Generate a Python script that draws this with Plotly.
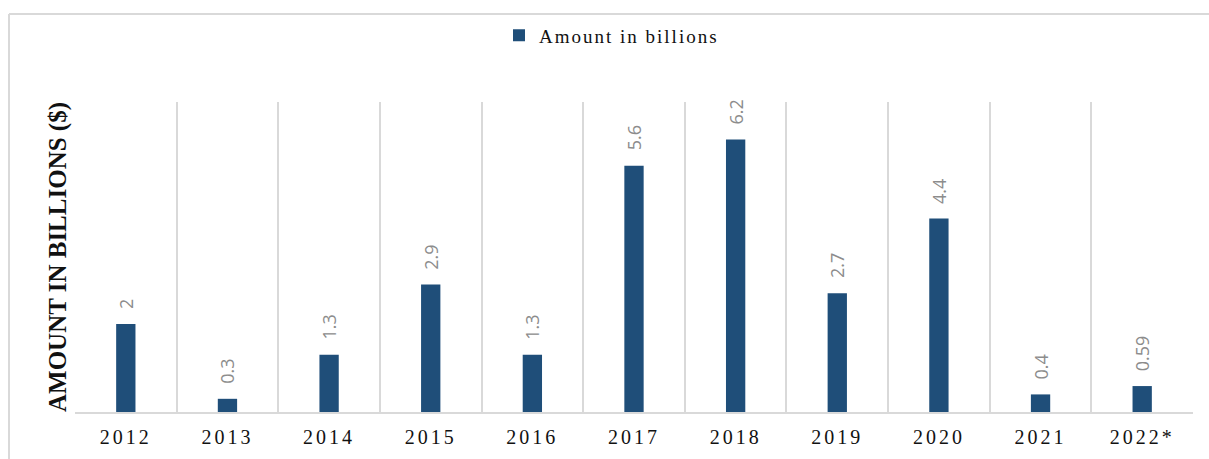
import plotly.graph_objects as go

years = ["2012", "2013", "2014", "2015", "2016", "2017", "2018", "2019", "2020", "2021", "2022*"]
amounts = [2, 0.3, 1.3, 2.9, 1.3, 5.6, 6.2, 2.7, 4.4, 0.4, 0.59]
labels = ["2", "0.3", "1.3", "2.9", "1.3", "5.6", "6.2", "2.7", "4.4", "0.4", "0.59"]
series_name = "Amount in billions"

W, H = 1209, 459
ml, mr, mt, mb = 75, 16, 102, 47
pw = W - ml - mr
ph = H - mt - mb

fig = go.Figure()
fig.add_trace(go.Bar(
    x=years, y=amounts, name=series_name,
    marker=dict(color="#1F4E79", line=dict(width=0)),
    cliponaxis=False,
))

# category axis: annotation positions use the category index
for i, (val, lab) in enumerate(zip(amounts, labels)):
    fig.add_annotation(x=i, y=val, text=lab, textangle=-90, showarrow=False,
                       xanchor="center", yanchor="bottom", yshift=13,
                       font=dict(family="Open Sans", size=18, color="#8c8c8c"))

grid = "#d9d9d9"
fig.update_layout(
    width=W, height=H,
    margin=dict(l=ml, r=mr, t=mt, b=mb, autoexpand=False),
    paper_bgcolor="white", plot_bgcolor="white",
    bargap=0.81,
    showlegend=True,
    legend=dict(orientation="h", x=499 / W, xanchor="left", xref="container",
                y=0.923, yanchor="middle", yref="container",
                font=dict(family="Liberation Serif", size=19, color="#111111"),
                itemwidth=30, entrywidth=240, entrywidthmode="pixels"),
    xaxis=dict(type="category", range=[-0.5, len(years) - 0.5], tickson="boundaries",
               showgrid=True, gridcolor=grid,
               gridwidth=1.5, showline=True, linecolor=grid, linewidth=1.5, ticks="",
               ticklabelstandoff=6, tickangle=0,
               tickfont=dict(family="Liberation Serif", size=20, color="#111111"),
               fixedrange=True),
    yaxis=dict(range=[0, 7.05], showgrid=False, showticklabels=False, zeroline=False,
               showline=False, ticks="",
               title=dict(text="<b>AMOUNT IN BILLIONS ($)</b>", standoff=0,
                          font=dict(family="Liberation Serif", size=25, color="#111111"))),
    shapes=[
        dict(type="line", xref="paper", yref="paper",
             x0=(9 - ml) / pw, x1=(W + 10 - ml) / pw,
             y0=1 + (mt - 14) / ph, y1=1 + (mt - 14) / ph,
             line=dict(color=grid, width=2)),
        dict(type="line", xref="paper", yref="paper",
             x0=(9 - ml) / pw, x1=(9 - ml) / pw,
             y0=1 + (mt - 14) / ph, y1=-0.3,
             line=dict(color=grid, width=2)),
    ],
)

post = """
document.querySelectorAll('.xtick text').forEach(function(t){t.style.letterSpacing='3px';});
document.querySelectorAll('.legendtext').forEach(function(t){t.style.letterSpacing='2px';});
"""
fig.write_html("out.html", post_script=post)
